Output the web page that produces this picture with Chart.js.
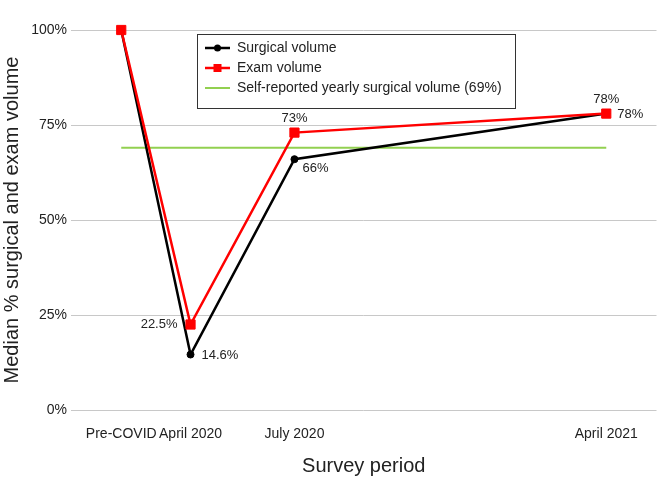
<!DOCTYPE html>
<html><head><meta charset="utf-8">
<script src="https://cdn.jsdelivr.net/npm/chart.js@4"></script>
<style>html,body{margin:0;padding:0;background:#fff}</style>
</head><body>
<canvas id="c" width="664" height="478"></canvas>
<script>
// ---- data ----
const periods = ['Pre-COVID', 'April 2020', 'July 2020', 'April 2021'];
const periodMonths = [-2, 0, 3, 12]; // months relative to April 2020
const surgicalVolume = [100, 14.6, 66, 78];
const examVolume = [100, 22.5, 73, 78];
const selfReportedVolume = 69;
const yTicks = [0, 25, 50, 75, 100];
const surgicalLabels = [null, '14.6%', '66%', '78%'];
const examLabels = [null, '22.5%', '73%', '78%'];
const legendLabels = ['Surgical volume', 'Exam volume', 'Self-reported yearly surgical volume (69%)'];

// label placement (style)
const surgicalLabelPlace = [null, 'right', 'belowRight', 'above'];
const examLabelPlace = [null, 'left', 'above', 'right'];

const FONT = '"Liberation Sans", Arial, sans-serif';
const RED = '#ff0000', BLACK = '#000000', GREEN = '#92d050', TEXT = '#222222';

const toPts = arr => arr.map((v, i) => ({x: periodMonths[i], y: v}));

const labelPlugin = {
  id: 'valueLabels',
  afterDatasetsDraw(chart) {
    const ctx = chart.ctx;
    const xs = chart.scales.x, ys = chart.scales.y;
    ctx.save();
    ctx.font = '13px ' + FONT;
    ctx.fillStyle = TEXT;
    const draw = (vals, labels, places) => {
      vals.forEach((v, i) => {
        if (!labels[i]) return;
        const px = xs.getPixelForValue(periodMonths[i]);
        const py = ys.getPixelForValue(v);
        const p = places[i];
        let tx = px, ty = py;
        if (p === 'right') { ctx.textAlign = 'left'; ctx.textBaseline = 'middle'; tx = px + 11; ty = py + 1; }
        else if (p === 'left') { ctx.textAlign = 'right'; ctx.textBaseline = 'middle'; tx = px - 13; ty = py; }
        else if (p === 'above') { ctx.textAlign = 'center'; ctx.textBaseline = 'middle'; ty = py - 14; }
        else if (p === 'belowRight') { ctx.textAlign = 'left'; ctx.textBaseline = 'middle'; tx = px + 8; ty = py + 9; }
        ctx.fillText(labels[i], tx, ty);
      });
    };
    draw(surgicalVolume, surgicalLabels, surgicalLabelPlace);
    draw(examVolume, examLabels, examLabelPlace);
    ctx.restore();
  },
  afterDraw(chart) {
    const ctx = chart.ctx;
    ctx.save();
    const bx = 197.5, by = 34.5, bw = 318, bh = 74;
    ctx.fillStyle = '#fff';
    ctx.fillRect(bx, by, bw, bh);
    ctx.strokeStyle = '#333';
    ctx.lineWidth = 1;
    ctx.strokeRect(bx, by, bw, bh);
    const rows = [48, 68, 88];
    const colors = [BLACK, RED, GREEN];
    ctx.font = '14px ' + FONT;
    ctx.textBaseline = 'middle';
    ctx.textAlign = 'left';
    rows.forEach((ry, i) => {
      ctx.strokeStyle = colors[i];
      ctx.lineWidth = i === 2 ? 2 : 2.5;
      ctx.beginPath(); ctx.moveTo(205, ry); ctx.lineTo(230, ry); ctx.stroke();
      ctx.fillStyle = colors[i];
      if (i === 0) { ctx.beginPath(); ctx.arc(217.5, ry, 3.5, 0, Math.PI * 2); ctx.fill(); }
      if (i === 1) { ctx.fillRect(213.5, ry - 4, 8, 8); }
      ctx.fillStyle = TEXT;
      ctx.fillText(legendLabels[i], 237, ry);
    });
    ctx.restore();
  }
};

new Chart(document.getElementById('c'), {
  type: 'line',
  data: {
    datasets: [
      {
        label: legendLabels[1], data: toPts(examVolume),
        borderColor: RED, backgroundColor: RED, borderWidth: 2.5,
        pointStyle: 'rect', pointRadius: 6.5, pointHoverRadius: 6.5, pointBorderWidth: 1,
        order: 0, clip: false
      },
      {
        label: legendLabels[0], data: toPts(surgicalVolume),
        borderColor: BLACK, backgroundColor: BLACK, borderWidth: 2.5,
        pointStyle: 'circle', pointRadius: 3.5, pointHoverRadius: 3.5, pointBorderWidth: 1,
        order: 1, clip: false
      },
      {
        label: legendLabels[2],
        data: [{x: periodMonths[0], y: selfReportedVolume}, {x: periodMonths[3], y: selfReportedVolume}],
        borderColor: GREEN, backgroundColor: GREEN, borderWidth: 2,
        pointRadius: 0, order: 2, clip: false
      }
    ]
  },
  options: {
    responsive: false,
    animation: false,
    devicePixelRatio: 1,
    layout: {padding: {top: 30, right: 5, bottom: 0, left: 0}},
    plugins: {legend: {display: false}, tooltip: {enabled: false}},
    scales: {
      x: {
        type: 'linear', min: -3.45, max: 13.45,
        afterBuildTicks: s => { s.ticks = periodMonths.map(v => ({value: v})); },
        afterFit: s => { s.height = 68; },
        ticks: {
          autoSkip: false, maxRotation: 0, padding: 16,
          font: {family: FONT, size: 14}, color: TEXT,
          callback: v => { const i = periodMonths.indexOf(v); return i >= 0 ? periods[i] : ''; }
        },
        grid: {display: false, drawTicks: false},
        border: {display: false},
        title: {display: true, text: 'Survey period', font: {family: FONT, size: 20}, color: TEXT, padding: {top: 12, bottom: 0}}
      },
      y: {
        min: 0, max: 100,
        afterBuildTicks: s => { s.ticks = yTicks.map(v => ({value: v})); },
        afterFit: s => { s.width = 71; },
        ticks: {
          padding: 4, font: {family: FONT, size: 14}, color: TEXT,
          callback: v => v + '%'
        },
        grid: {color: '#c8c8c8', lineWidth: 1, drawTicks: false},
        border: {display: false},
        title: {display: true, text: 'Median % surgical and exam volume', font: {family: FONT, size: 20}, color: TEXT, padding: {top: 0, bottom: 4}}
      }
    }
  },
  plugins: [labelPlugin]
});
</script>
</body></html>
